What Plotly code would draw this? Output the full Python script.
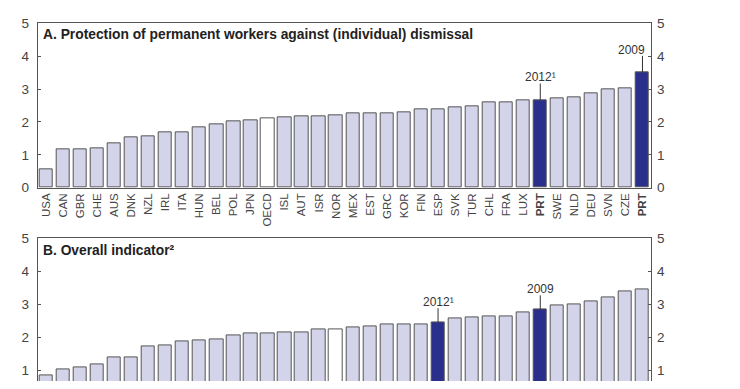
import plotly.graph_objects as go

# ---- Data ----
a_labels = ["USA", "CAN", "GBR", "CHE", "AUS", "DNK", "NZL", "IRL", "ITA", "HUN", "BEL", "POL",
            "JPN", "OECD", "ISL", "AUT", "ISR", "NOR", "MEX", "EST", "GRC", "KOR", "FIN", "ESP",
            "SVK", "TUR", "CHL", "FRA", "LUX", "PRT", "SWE", "NLD", "DEU", "SVN", "CZE", "PRT"]
a_values = [0.55, 1.17, 1.17, 1.19, 1.36, 1.53, 1.55, 1.67, 1.70, 1.83, 1.93, 2.01,
            2.06, 2.12, 2.14, 2.18, 2.18, 2.20, 2.25, 2.27, 2.27, 2.29, 2.38, 2.38,
            2.45, 2.48, 2.60, 2.60, 2.67, 2.67, 2.72, 2.74, 2.86, 2.98, 3.01, 3.51]
a_oecd = 13
a_highlight = {29: "2012¹", 35: "2009"}

b_values = [0.86, 1.03, 1.10, 1.18, 1.39, 1.39, 1.75, 1.78, 1.89, 1.92, 1.95, 2.07,
            2.12, 2.12, 2.15, 2.15, 2.26, 2.26, 2.30, 2.33, 2.39, 2.41, 2.41, 2.45,
            2.58, 2.62, 2.63, 2.65, 2.77, 2.84, 2.97, 3.01, 3.11, 3.23, 3.39, 3.45]
b_oecd = 17
b_highlight = {23: "2012¹", 29: "2009"}

y_ticks = [0, 1, 2, 3, 4, 5]

LIGHT = "#d3d3ea"
DARK = "#2b2f8c"
EDGE = "#555555"
TXT = "#333333"
FONT = "Liberation Sans, Arial, sans-serif"


def colors(n, oecd, hl):
    out = []
    for i in range(n):
        if i == oecd:
            out.append("white")
        elif i in hl:
            out.append(DARK)
        else:
            out.append(LIGHT)
    return out


fig = go.Figure()

xa = list(range(len(a_values)))
xb = list(range(len(b_values)))

fig.add_trace(go.Bar(x=xa, y=a_values, width=0.78,
                     marker=dict(color=colors(len(a_values), a_oecd, a_highlight),
                                 line=dict(color=EDGE, width=1)),
                     xaxis="x", yaxis="y", showlegend=False, hoverinfo="skip"))
fig.add_trace(go.Bar(x=xa, y=a_values, width=0.78, opacity=0,
                     xaxis="x", yaxis="y3", showlegend=False, hoverinfo="skip"))
fig.add_trace(go.Bar(x=xb, y=b_values, width=0.78,
                     marker=dict(color=colors(len(b_values), b_oecd, b_highlight),
                                 line=dict(color=EDGE, width=1)),
                     xaxis="x2", yaxis="y2", showlegend=False, hoverinfo="skip"))
fig.add_trace(go.Bar(x=xb, y=b_values, width=0.78, opacity=0,
                     xaxis="x2", yaxis="y4", showlegend=False, hoverinfo="skip"))

xdom = [37.7 / 740, 651 / 740]
a_dom = [1 - 188 / 389, 1 - 17 / 389]
b_dom = [0, 1 - 240.7 / 389]
b_range = [0.69, 5]

ytick_style = dict(tickvals=y_ticks, ticks="inside", ticklen=3, tickcolor=EDGE,
                   ticklabelstandoff=5,
                   tickfont=dict(size=13.5, color="#444444", family=FONT),
                   showgrid=False, zeroline=False, fixedrange=True)

ticktext = [f"<b>{l}</b>" if l == "PRT" else l for l in a_labels]

fig.update_layout(
    width=740, height=389,
    margin=dict(l=0, r=0, t=0, b=0),
    paper_bgcolor="white", plot_bgcolor="white",
    font=dict(family=FONT, color=TXT),
    bargap=0,
    xaxis=dict(domain=xdom, anchor="y", range=[-0.5, len(a_values) - 0.5],
               tickvals=xa, ticktext=ticktext, tickangle=-90,
               tickfont=dict(size=11.5, color="#444444", family=FONT),
               showline=True, linecolor=EDGE, linewidth=1, mirror=True,
               ticks="", showgrid=False, zeroline=False),
    yaxis=dict(domain=a_dom, anchor="x", range=[0, 5], showline=True,
               linecolor=EDGE, linewidth=1, mirror=True, **ytick_style),
    yaxis3=dict(overlaying="y", side="right", anchor="x", range=[0, 5], **ytick_style),
    xaxis2=dict(domain=xdom, anchor="y2", range=[-0.5, len(b_values) - 0.5],
                side="top", showticklabels=False, ticks="",
                showline=True, linecolor=EDGE, linewidth=1, mirror=False,
                showgrid=False, zeroline=False),
    yaxis2=dict(domain=b_dom, anchor="x2", range=b_range, showline=True,
                linecolor=EDGE, linewidth=1, mirror=True, **ytick_style),
    yaxis4=dict(overlaying="y2", side="right", anchor="x2", range=b_range, **ytick_style),
)

# Panel titles
fig.add_annotation(text="<b>A. Protection of permanent workers against (individual) dismissal</b>",
                   xref="x domain", yref="y domain", x=0.006, y=0.935,
                   xanchor="left", yanchor="middle", showarrow=False,
                   font=dict(size=13.8, color="#222222", family=FONT))
fig.add_annotation(text="<b>B. Overall indicator²</b>",
                   xref="x2 domain", yref="y2 domain", x=0.006, y=0.915,
                   xanchor="left", yanchor="middle", showarrow=False,
                   font=dict(size=13.8, color="#222222", family=FONT))

# Leader lines and labels
def add_callouts(hl, values, xref, yref, gap_line, gap_text, shift):
    for idx, label in hl.items():
        v = values[idx]
        fig.add_shape(type="line", xref=xref, yref=yref, x0=idx, x1=idx,
                      y0=v, y1=v + gap_line, line=dict(color="#333333", width=1))
        fig.add_annotation(text=label, xref=xref, yref=yref, x=idx, y=v + gap_text,
                           xanchor="right" if shift.get(idx) else "center",
                           xshift=shift.get(idx, 0), yanchor="middle", showarrow=False,
                           font=dict(size=12, color="#333333", family=FONT))

add_callouts(a_highlight, a_values, "x", "y", 0.5, 0.69, {35: 5})
add_callouts(b_highlight, b_values, "x2", "y2", 0.44, 0.62, {})

fig.write_html("out.html", config={"displayModeBar": False},
               post_script="document.body.style.margin='0';")
